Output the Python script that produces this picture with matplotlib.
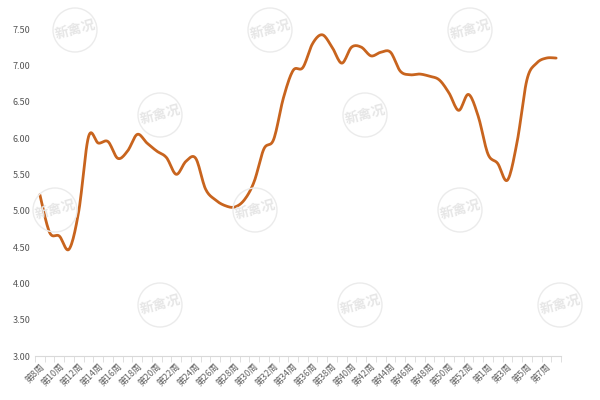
import matplotlib
matplotlib.use("Agg")
import matplotlib.pyplot as plt
from matplotlib.patches import Circle
import numpy as np

plt.rcParams['font.family'] = ['Noto Sans CJK SC', 'DejaVu Sans']

weeks = [f"第{w}周" for w in range(8, 54)] + [f"第{w}周" for w in range(1, 9)]
values = [5.22, 4.70, 4.65, 4.47, 5.00, 6.02, 5.93, 5.95, 5.72, 5.82,
          6.05, 5.93, 5.82, 5.73, 5.50, 5.68, 5.72, 5.30, 5.15, 5.07,
          5.05, 5.15, 5.40, 5.85, 5.98, 6.55, 6.93, 6.97, 7.30, 7.42,
          7.25, 7.03, 7.25, 7.25, 7.13, 7.18, 7.18, 6.92, 6.87, 6.88,
          6.85, 6.80, 6.62, 6.38, 6.60, 6.30, 5.78, 5.65, 5.42, 5.95,
          6.80, 7.03, 7.10, 7.10]

fig = plt.figure(figsize=(6, 4), dpi=100)
ax = fig.add_axes([35/600, 1-356/400, 526/600, (356-29)/400])

x = np.arange(len(values))
def catmull(xs, ys, n=12):
    px, py = [], []
    xs = np.concatenate([[xs[0]], xs, [xs[-1]]]); ys = np.concatenate([[ys[0]], ys, [ys[-1]]])
    for i in range(1, len(xs)-2):
        t = np.linspace(0, 1, n, endpoint=False)
        for arr, out in ((xs, px), (ys, py)):
            p0, p1, p2, p3 = arr[i-1], arr[i], arr[i+1], arr[i+2]
            out.extend(0.5*((2*p1) + (-p0+p2)*t + (2*p0-5*p1+4*p2-p3)*t**2 + (-p0+3*p1-3*p2+p3)*t**3))
    px.append(xs[-2]); py.append(ys[-2])
    return px, py
sx, sy = catmull(x.astype(float), np.array(values))
ax.plot(sx, sy, color='#C8641E', lw=2.0, solid_capstyle='round', zorder=3)

ax.set_xlim(-0.5, len(values)-0.5)
ax.set_ylim(3, 7.5)
yt = np.arange(3, 7.51, 0.5)
ax.set_yticks(yt)
ax.set_yticklabels([f"{v:.2f}" for v in yt], fontsize=6.5, color='#555555')
ax.set_xticks(x[::2])
ax.set_xticklabels(weeks[::2], rotation=45, ha='right', rotation_mode='anchor', fontsize=6.5, color='#666666')
ax.set_xticks(np.arange(-0.5, len(values), 1), minor=True)
ax.tick_params(axis='x', which='major', length=0, pad=4)
ax.tick_params(axis='x', which='minor', length=4, color='#D9D9D9')
ax.tick_params(axis='y', length=0)
for s in ['top', 'right', 'left']:
    ax.spines[s].set_visible(False)
ax.spines['bottom'].set_color('#D9D9D9')

for (px, py) in [(75,30),(270,30),(470,30),(160,115),(365,115),(55,210),(255,210),(460,210),(160,305),(360,305),(560,305)]:
    fx, fy = px/600, 1-py/400
    fig.patches.append(Circle((fx*6, fy*4), 0.22, transform=fig.dpi_scale_trans, fill=False, ec='#EBEBEB', lw=1.0, zorder=0))
    fig.text(fx, fy, "新禽况", ha='center', va='center', fontsize=10, color='#E6E6E6', fontweight='bold', rotation=15, zorder=0)

fig.savefig("out.png", dpi=100)
